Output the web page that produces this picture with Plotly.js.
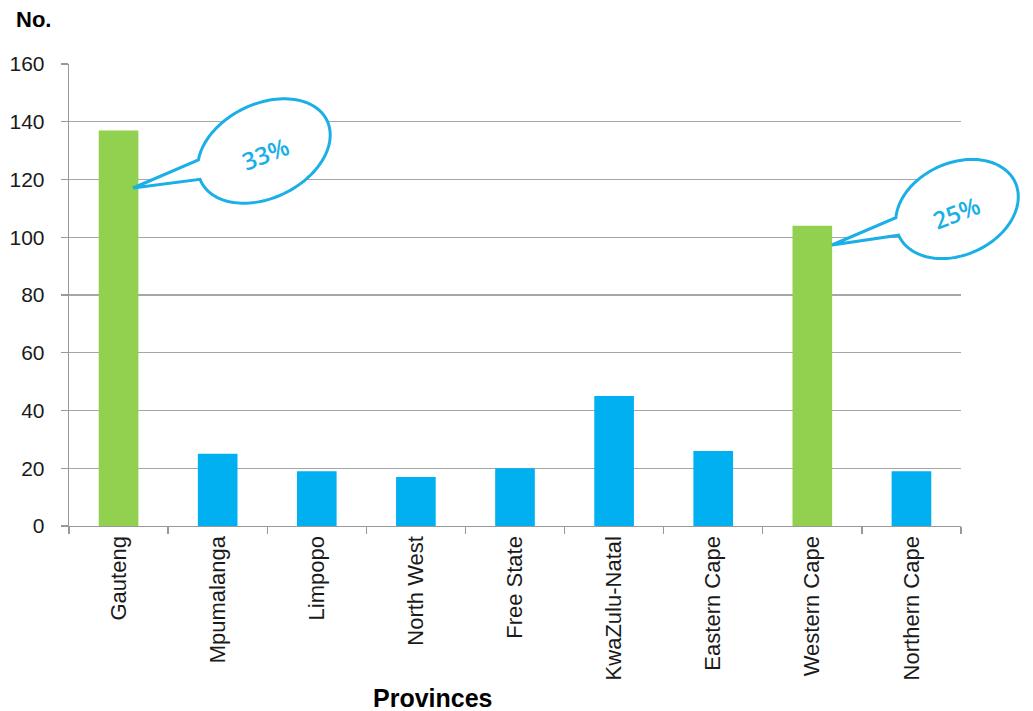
<!DOCTYPE html>
<html>
<head>
<meta charset="utf-8">
<script src="https://cdn.plot.ly/plotly-3.0.1.min.js"></script>
<style>
  html, body { margin: 0; padding: 0; background: #fff; }
  #chart { width: 1033px; height: 711px; }
</style>
</head>
<body>
<div id="chart"></div>
<script>
// ---- data ----
const provinces = ["Gauteng", "Mpumalanga", "Limpopo", "North West", "Free State",
                   "KwaZulu-Natal", "Eastern Cape", "Western Cape", "Northern Cape"];
const counts = [137, 25, 19, 17, 20, 45, 26, 104, 19];
const highlighted = ["Gauteng", "Western Cape"];
const calloutLabels = ["33%", "25%"];
const yTickValues = [0, 20, 40, 60, 80, 100, 120, 140, 160];

// ---- styling ----
const GREEN = "#92D050";
const BLUE = "#00B0F0";
const CALLOUT = "#1AAFE6";
const W = 1033, H = 711;
const M = { l: 69, r: 72, t: 64, b: 185 };
const PW = W - M.l - M.r, PH = H - M.t - M.b;
const px = x => (x - M.l) / PW;
const py = y => (H - M.b - y) / PH;

const barColors = provinces.map(p => highlighted.includes(p) ? GREEN : BLUE);

// callout geometry in screen pixels (annotation decoration)
const calloutGeom = [
  { cx: 264, cy: 151, a: 70, b: 47, phi: 26, tip: [133, 188], b1: [198, 160], b2: [203, 178], tx: 265, ty: 153 },
  { cx: 957, cy: 209, a: 64, b: 46, phi: 24.5, tip: [832, 245], b1: [893, 218], b2: [897, 236], tx: 956, ty: 212 }
];

function calloutPath(g) {
  const f = g.phi * Math.PI / 180;
  const ux = Math.cos(f), uy = -Math.sin(f);
  const vx = Math.sin(f), vy = Math.cos(f);
  const param = p => {
    const dx = p[0] - g.cx, dy = p[1] - g.cy;
    const u = (dx * ux + dy * uy) / g.a;
    const v = (dx * vx + dy * vy) / g.b;
    return Math.atan2(v, u);
  };
  const pt = t => [g.cx + g.a * Math.cos(t) * ux + g.b * Math.sin(t) * vx,
                   g.cy + g.a * Math.cos(t) * uy + g.b * Math.sin(t) * vy];
  const t1 = param(g.b1), t2 = param(g.b2);
  let d = t2 - t1;
  while (d < 0) d += 2 * Math.PI;
  while (d >= 2 * Math.PI) d -= 2 * Math.PI;
  const span = d < Math.PI ? d - 2 * Math.PI : d;
  const N = 120;
  const pts = [];
  for (let k = 0; k <= N; k++) pts.push(pt(t1 + span * k / N));
  pts.push(g.tip);
  return "M " + pts.map(p => px(p[0]).toFixed(5) + "," + py(p[1]).toFixed(5)).join(" L ") + " Z";
}

const shapes = calloutGeom.map(g => ({
  type: "path", xref: "paper", yref: "paper", layer: "above",
  path: calloutPath(g),
  fillcolor: "#ffffff",
  line: { color: CALLOUT, width: 3 }
}));

const annotations = calloutGeom.map((g, i) => ({
  xref: "paper", yref: "paper", x: px(g.tx), y: py(g.ty),
  text: calloutLabels[i], showarrow: false, textangle: -21,
  xanchor: "center", yanchor: "middle",
  font: { family: "Open Sans", size: 24, weight: 600, color: CALLOUT }
}));

annotations.push({
  xref: "paper", yref: "paper", x: px(14), y: py(19),
  xanchor: "left", yanchor: "middle", showarrow: false,
  text: "<b>No.</b>",
  font: { family: "Liberation Sans, Arial", size: 22, color: "#000" }
});
annotations.push({
  xref: "paper", yref: "paper", x: px(433), y: py(698),
  xanchor: "center", yanchor: "middle", showarrow: false,
  text: "<b>Provinces</b>",
  font: { family: "Liberation Sans, Arial", size: 25, color: "#000" }
});

const trace = {
  type: "bar",
  x: provinces,
  y: counts,
  marker: { color: barColors, line: { width: 0 } },
  hoverinfo: "x+y"
};

const layout = {
  width: W, height: H,
  margin: M,
  paper_bgcolor: "#ffffff",
  plot_bgcolor: "#ffffff",
  showlegend: false,
  bargap: 0.6,
  font: { family: "Liberation Sans, Arial", size: 20, color: "#1a1a1a" },
  xaxis: {
    type: "category",
    tickangle: -90,
    ticks: "outside", ticklen: 7, tickwidth: 1.3, tickcolor: "#999",
    tickson: "boundaries",
    showline: true, linecolor: "#999", linewidth: 1.3,
    showgrid: false, zeroline: false,
    tickfont: { family: "Liberation Sans, Arial", size: 22, color: "#1a1a1a" },
    fixedrange: true
  },
  yaxis: {
    range: [0, 160],
    tickvals: yTickValues,
    ticktext: yTickValues.map(String),
    ticks: "outside", ticklen: 7, tickwidth: 1.3, tickcolor: "#999",
    ticklabelstandoff: 12,
    showline: true, linecolor: "#999", linewidth: 1.3,
    showgrid: true, gridcolor: "#a6a6a6", gridwidth: 1.3,
    zeroline: false,
    tickfont: { family: "Liberation Sans, Arial", size: 21, color: "#1a1a1a" },
    fixedrange: true
  },
  shapes: shapes,
  annotations: annotations
};

Plotly.newPlot("chart", [trace], layout, { displayModeBar: false, staticPlot: true });
</script>
</body>
</html>
